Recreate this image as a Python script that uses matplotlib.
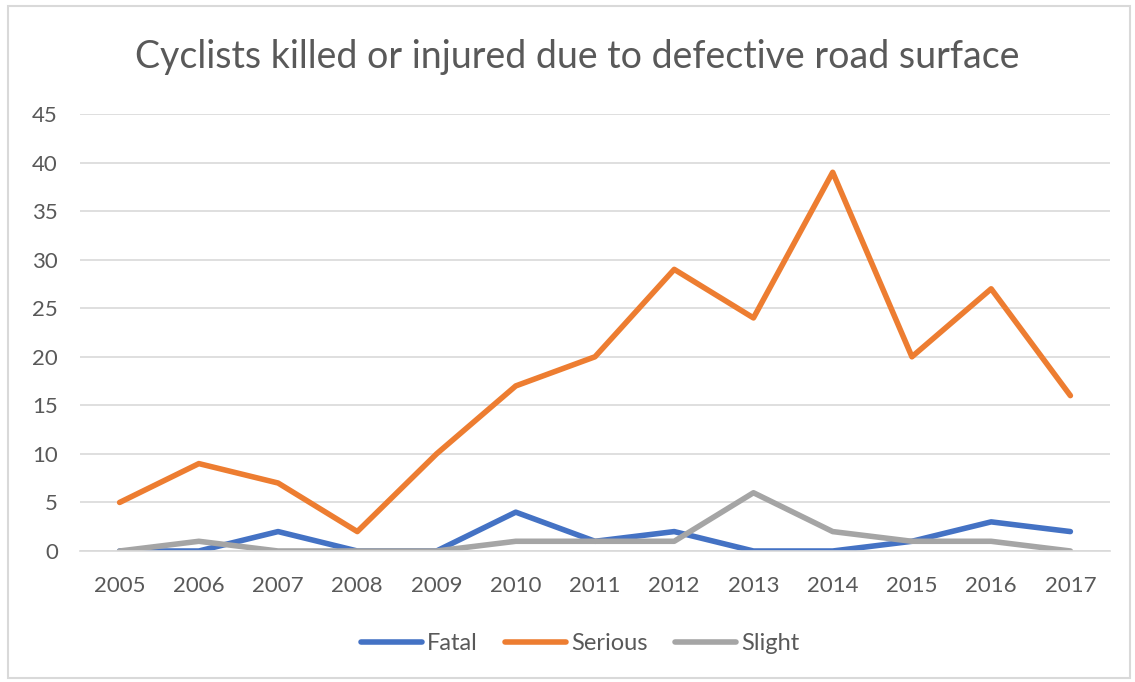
import matplotlib
matplotlib.use('Agg')
import matplotlib.pyplot as plt
from matplotlib.patches import Rectangle

years = ['2005', '2006', '2007', '2008', '2009', '2010', '2011',
         '2012', '2013', '2014', '2015', '2016', '2017']
fatal = [0, 0, 2, 0, 0, 4, 1, 2, 0, 0, 1, 3, 2]
serious = [5, 9, 7, 2, 10, 17, 20, 29, 24, 39, 20, 27, 16]
slight = [0, 1, 0, 0, 0, 1, 1, 1, 6, 2, 1, 1, 0]

plt.rcParams['font.family'] = ['Lato', 'DejaVu Sans']
text_color = '#595959'

fig = plt.figure(figsize=(11.35, 6.82), dpi=100)
ax = fig.add_axes([80 / 1135, 1 - 551 / 682, 1030 / 1135, 437 / 682])

# outer chart border
fig.patches.append(Rectangle((8 / 1135, 4 / 682), 1122 / 1135, 672 / 682,
                             transform=fig.transFigure, fill=False,
                             edgecolor='#D9D9D9', linewidth=1.5))

x = list(range(len(years)))
style = dict(lw=4, solid_capstyle='round', solid_joinstyle='round')
ax.plot(x, fatal, color='#4472C4', label='Fatal', **style)
ax.plot(x, serious, color='#ED7D31', label='Serious', **style)
ax.plot(x, slight, color='#A5A5A5', label='Slight', **style)

ax.set_xlim(-0.5, len(years) - 0.5)
ax.set_ylim(0, 45)
ax.set_yticks(range(0, 46, 5))
ax.set_xticks(x)
ax.set_xticklabels(years)
ax.yaxis.grid(True, color='#D9D9D9', lw=1.2)
ax.set_axisbelow(True)
for s in ['top', 'right', 'left']:
    ax.spines[s].set_visible(False)
ax.spines['bottom'].set_color('#D9D9D9')
ax.spines['bottom'].set_linewidth(1.2)
ax.tick_params(axis='both', length=0, labelsize=16, colors=text_color)
ax.tick_params(axis='x', pad=18)
ax.tick_params(axis='y', pad=16)

fig.text(577 / 1135, 1 - 57 / 682, 'Cyclists killed or injured due to defective road surface',
         ha='center', va='center', fontsize=27, color=text_color)

leg = fig.legend(loc='center', bbox_to_anchor=(580 / 1135, 1 - 644 / 682), ncol=3,
                 frameon=False, fontsize=17, handlelength=2.6, handletextpad=0.2,
                 columnspacing=1.15)
for t in leg.get_texts():
    t.set_color(text_color)

fig.savefig('out.png', dpi=100)
